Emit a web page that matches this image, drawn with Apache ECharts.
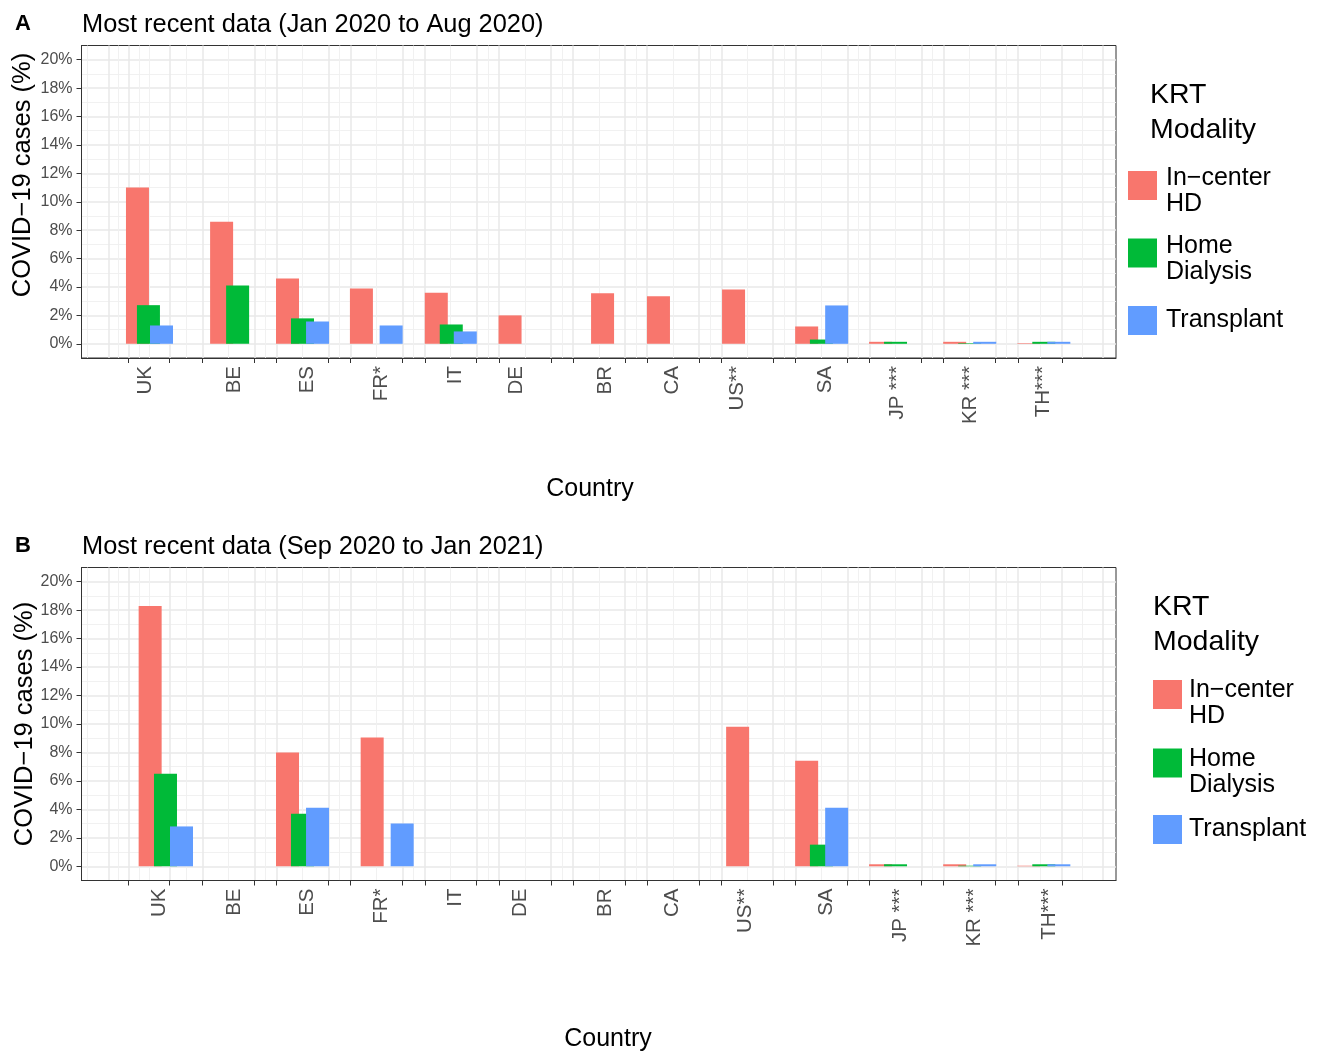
<!DOCTYPE html>
<html>
<head>
<meta charset="utf-8">
<script src="https://cdn.jsdelivr.net/npm/echarts@6/dist/echarts.min.js"></script>
<style>
html,body{margin:0;padding:0;background:#ffffff;}
#chart{width:1321px;height:1051px;}
</style>
</head>
<body>
<div id="chart"></div>
<script>
// ---------------- data ----------------
const countries = ['UK','BE','ES','FR*','IT','DE','BR','CA','US**','SA','JP ***','KR ***','TH***'];
const modalities = ['In−center HD','Home Dialysis','Transplant'];

// Panel A: Jan 2020 to Aug 2020 (COVID-19 cases, %)
const inCenterA   = [11.0, 8.6, 4.6, 3.9, 3.6, 2.0, 3.55, 3.35, 3.82, 1.22, 0.14, 0.14, 0.04];
const homeA       = [2.72, 4.1, 1.79, null, 1.36, null, null, null, null, 0.30, 0.14, 0.04, 0.14];
const transplantA = [1.29, null, 1.57, 1.29, 0.87, null, null, null, null, 2.70, null, 0.14, 0.14];

// Panel B: Sep 2020 to Jan 2021 (COVID-19 cases, %)
const inCenterB   = [18.3, null, 8.0, 9.05, null, null, null, null, 9.8, 7.42, 0.14, 0.14, 0.04];
const homeB       = [6.5, null, 3.7, null, null, null, null, null, null, 1.52, 0.14, 0.04, 0.14];
const transplantB = [2.8, null, 4.12, 3.0, null, null, null, null, null, 4.12, null, 0.14, 0.14];

// x position of each bar inside its country slot (axis units, slot start = country index)
const slotA_inCenter   = [0.124, 0.259, 0.148, 0.145, 0.155, 0.150, 0.398, 0.152, 0.165, 0.151, 0.148, 0.148, 0.148];
const slotA_home       = [0.272, 0.475, 0.350, 0.350, 0.357, 0.350, 0.350, 0.350, 0.350, 0.350, 0.350, 0.350, 0.350];
const slotA_transplant = [0.448, 0.550, 0.553, 0.546, 0.546, 0.550, 0.550, 0.550, 0.550, 0.556, 0.550, 0.553, 0.553];
const slotB_inCenter   = [0.295, 0.148, 0.148, 0.290, 0.148, 0.148, 0.148, 0.148, 0.220, 0.151, 0.148, 0.148, 0.148];
const slotB_home       = [0.502, 0.350, 0.350, 0.350, 0.350, 0.350, 0.350, 0.350, 0.350, 0.350, 0.350, 0.350, 0.350];
const slotB_transplant = [0.718, 0.550, 0.553, 0.695, 0.550, 0.550, 0.550, 0.550, 0.550, 0.556, 0.550, 0.553, 0.553];

// axis ticks / labels
const xTicks = [0, 0.553, 1, 1.7, 2, 2.7, 3, 3.7, 4, 4.7, 5, 5.7, 6, 6.7, 7, 7.7, 8, 8.7, 9, 9.7, 10, 10.7, 11, 11.7, 12, 12.595];
const xGridExtraMajor = [-0.27, 13.14];
const xGridExtraMinor = [-0.548, 0.148];
const labelPosA = [0.235, 1.433, 2.42, 3.42, 4.41, 5.23, 6.43, 7.34, 8.22, 9.40, 10.38, 11.36, 12.35];
const labelPosB = [0.415, 1.433, 2.42, 3.42, 4.41, 5.29, 6.43, 7.34, 8.33, 9.41, 10.41, 11.41, 12.42];
const yTicks = [0, 2, 4, 6, 8, 10, 12, 14, 16, 18, 20];
const yMinor = [1, 3, 5, 7, 9, 11, 13, 15, 17, 19];

// ---------------- chart ----------------
const FONT = '"Liberation Sans", Arial, Helvetica, sans-serif';
const COLORS = ['#F8766D', '#00BA38', '#619CFF'];
const X_MIN = -0.631, X_MAX = 13.324;
const GRID_MAJOR = '#e9e9e9';
const GRID_MINOR = '#efefef';
const DARK = '#333333';

const xGridMajor = xGridExtraMajor.concat(xTicks).sort((a, b) => a - b);
const xGridMinor = xGridExtraMinor.slice();
for (let i = 0; i < xGridMajor.length - 1; i++) {
  xGridMinor.push((xGridMajor[i] + xGridMajor[i + 1]) / 2);
}

function nearestName(v, pos) {
  let best = 0, bd = Infinity;
  pos.forEach((p, i) => { const d = Math.abs(p - v); if (d < bd) { bd = d; best = i; } });
  return countries[best];
}

function xAxesFor(gridIndex, labelPos) {
  return [
    {
      type: 'value', gridIndex, min: X_MIN, max: X_MAX, position: 'bottom',
      axisLine: { show: true, onZero: false, lineStyle: { color: DARK, width: 1 } },
      axisTick: { show: true, length: 5, customValues: xTicks, lineStyle: { color: DARK, width: 1 } },
      axisLabel: {
        show: true, customValues: labelPos, rotate: 90, margin: 8,
        fontSize: 20.5, color: '#4d4d4d', fontFamily: FONT,
        formatter: (v) => nearestName(v, labelPos)
      },
      splitLine: { show: false }
    },
    {
      type: 'value', gridIndex, min: X_MIN, max: X_MAX, position: 'bottom',
      axisLine: { show: false, onZero: false },
      axisTick: { show: false, customValues: xGridMajor },
      axisLabel: { show: false },
      splitLine: { show: true, lineStyle: { color: GRID_MAJOR, width: 1.5 } }
    },
    {
      type: 'value', gridIndex, min: X_MIN, max: X_MAX, position: 'bottom',
      axisLine: { show: false, onZero: false },
      axisTick: { show: false, customValues: xGridMinor },
      axisLabel: { show: false },
      splitLine: { show: true, lineStyle: { color: GRID_MINOR, width: 0.9 } }
    }
  ];
}

function yAxesFor(gridIndex) {
  return [
    {
      type: 'value', gridIndex, min: -1, max: 21, position: 'left',
      axisLine: { show: true, onZero: false, lineStyle: { color: DARK, width: 1 } },
      axisTick: { show: true, length: 5, customValues: yTicks, lineStyle: { color: DARK, width: 1 } },
      axisLabel: {
        show: true, customValues: yTicks, margin: 9, fontSize: 16, color: '#4d4d4d', fontFamily: FONT,
        formatter: (v) => v + '%'
      },
      splitLine: { show: true, lineStyle: { color: GRID_MAJOR, width: 1.5 } }
    },
    {
      type: 'value', gridIndex, min: -1, max: 21, position: 'left',
      axisLine: { show: false, onZero: false },
      axisTick: { show: false, customValues: yMinor },
      axisLabel: { show: false },
      splitLine: { show: true, lineStyle: { color: GRID_MINOR, width: 0.9 } }
    }
  ];
}

function barSeries(name, color, values, slots, xAxisIndex, yAxisIndex) {
  const data = [];
  values.forEach((v, i) => { if (v !== null) data.push([i + slots[i], v]); });
  return {
    name, type: 'bar', xAxisIndex, yAxisIndex, data,
    barWidth: 23, barGap: '-100%',
    itemStyle: { color },
    emphasis: { disabled: true },
    animation: false
  };
}

// legend item: multi-word names are wrapped on two lines, with a spacer line on top
function legendItem(name, left, top, padLeft, spacer) {
  const parts = name.split(' ');
  const twoLine = parts.length > 1;
  return {
    data: [name], left, top, orient: 'vertical', padding: 0, itemGap: 0,
    itemWidth: 29, itemHeight: 29, icon: 'rect', selectedMode: false,
    formatter: (n) => twoLine
      ? '{sp| }\n' + n.split(' ').map(s => '{t|' + s + '}').join('\n')
      : '{t|' + n + '}',
    textStyle: {
      fontSize: 25, lineHeight: 26, color: '#000000', fontFamily: FONT,
      padding: [0, 0, 0, padLeft],
      rich: {
        sp: { fontSize: 2, lineHeight: spacer },
        t: { fontSize: 25, lineHeight: 26, color: '#000000', fontFamily: FONT }
      }
    }
  };
}

const option = {
  animation: false,
  backgroundColor: '#ffffff',
  textStyle: { fontFamily: FONT },
  title: [
    { text: 'A', left: 15, top: 13, padding: 0, textStyle: { fontSize: 22, fontWeight: 'bold', color: '#000', fontFamily: FONT } },
    { text: 'Most recent data (Jan 2020 to Aug 2020)', left: 82, top: 10, padding: 0, textStyle: { fontSize: 25.4, lineHeight: 30, fontWeight: 'normal', color: '#000', fontFamily: FONT } },
    { text: 'KRT\nModality', left: 1150, top: 78, padding: 0, textStyle: { fontSize: 28.5, lineHeight: 35, fontWeight: 'normal', color: '#000', fontFamily: FONT } },
    { text: 'B', left: 15, top: 535, padding: 0, textStyle: { fontSize: 22, fontWeight: 'bold', color: '#000', fontFamily: FONT } },
    { text: 'Most recent data (Sep 2020 to Jan 2021)', left: 82, top: 532, padding: 0, textStyle: { fontSize: 25.4, lineHeight: 30, fontWeight: 'normal', color: '#000', fontFamily: FONT } },
    { text: 'KRT\nModality', left: 1153, top: 590, padding: 0, textStyle: { fontSize: 28.5, lineHeight: 35, fontWeight: 'normal', color: '#000', fontFamily: FONT } }
  ],
  legend: [
    legendItem(modalities[0], 1128, 153.5, 4, 12),
    legendItem(modalities[1], 1128, 221, 4, 12),
    legendItem(modalities[2], 1128, 306, 4, 0),
    legendItem(modalities[0], 1153, 659.5, 2, 18),
    legendItem(modalities[1], 1153, 728, 2, 18),
    legendItem(modalities[2], 1153, 815, 2, 0)
  ],
  grid: [
    { left: 81.5, right: 205, top: 45.5, height: 312.5, show: true, borderColor: DARK, borderWidth: 1, backgroundColor: '#ffffff' },
    { left: 81.5, right: 205, top: 567.5, height: 313, show: true, borderColor: DARK, borderWidth: 1, backgroundColor: '#ffffff' }
  ],
  xAxis: xAxesFor(0, labelPosA).concat(xAxesFor(1, labelPosB)),
  yAxis: yAxesFor(0).concat(yAxesFor(1)),
  series: [
    barSeries(modalities[0], COLORS[0], inCenterA, slotA_inCenter, 0, 0),
    barSeries(modalities[1], COLORS[1], homeA, slotA_home, 0, 0),
    barSeries(modalities[2], COLORS[2], transplantA, slotA_transplant, 0, 0),
    barSeries(modalities[0], COLORS[0], inCenterB, slotB_inCenter, 3, 2),
    barSeries(modalities[1], COLORS[1], homeB, slotB_home, 3, 2),
    barSeries(modalities[2], COLORS[2], transplantB, slotB_transplant, 3, 2)
  ],
  graphic: [
    { type: 'text', x: 23, y: 175, rotation: Math.PI / 2, silent: true,
      style: { text: 'COVID−19 cases (%)', fontSize: 25.5, fontFamily: FONT, fill: '#000', align: 'center', verticalAlign: 'middle' } },
    { type: 'text', x: 25, y: 724, rotation: Math.PI / 2, silent: true,
      style: { text: 'COVID−19 cases (%)', fontSize: 25.5, fontFamily: FONT, fill: '#000', align: 'center', verticalAlign: 'middle' } },
    { type: 'text', x: 590, y: 489, silent: true,
      style: { text: 'Country', fontSize: 25, fontFamily: FONT, fill: '#000', align: 'center', verticalAlign: 'middle' } },
    { type: 'text', x: 608, y: 1039, silent: true,
      style: { text: 'Country', fontSize: 25, fontFamily: FONT, fill: '#000', align: 'center', verticalAlign: 'middle' } }
  ]
};

const chart = echarts.init(document.getElementById('chart'), null, { renderer: 'canvas' });
chart.setOption(option);
</script>
</body>
</html>
